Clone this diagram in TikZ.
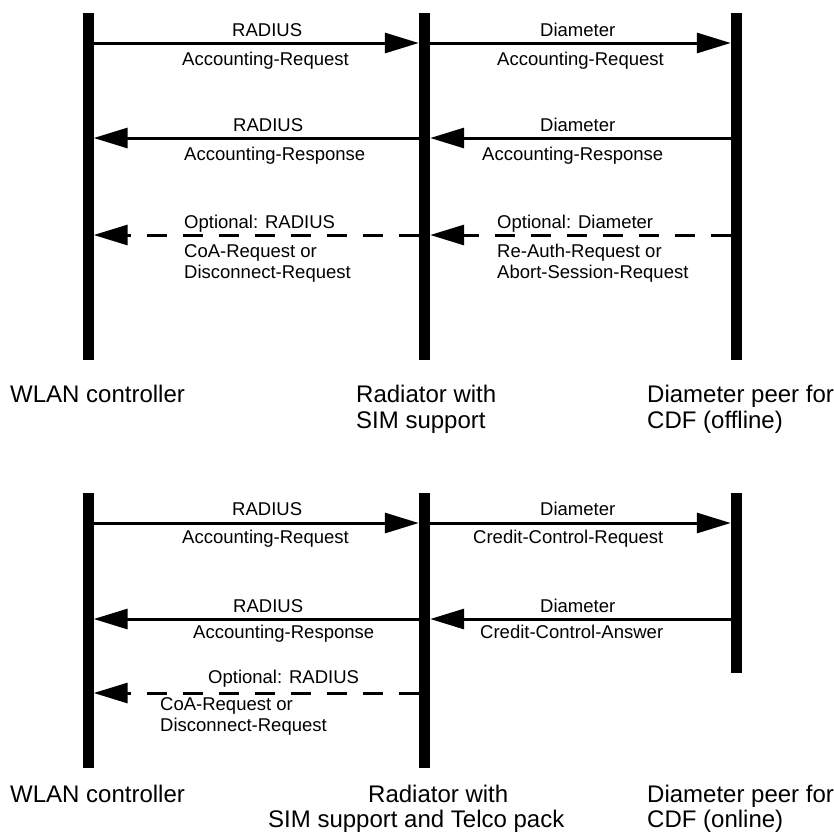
\documentclass[tikz,border=0pt]{standalone}
\usepackage{fontspec}
\setmainfont{Liberation Sans}
\usetikzlibrary{arrows.meta}

\begin{document}
\begin{tikzpicture}[x=1pt,y=-1pt,->,>={Triangle[length=34pt,width=20pt]},
        msg/.style={line width=3pt},
        opt/.style={msg,dash pattern=on 20pt off 16pt},
        life/.style={fill=black,inner sep=0pt,minimum width=11pt},
        txt/.style={anchor=base west,inner sep=0pt,font=\fontsize{18.5}{21}\selectfont},
        who/.style={anchor=base west,inner sep=0pt,font=\fontsize{24}{26}\selectfont}]

  \useasboundingbox[-] (0,0) rectangle (834,833);

  % offline charging
  \node[life,minimum height=347pt] (wlanA) at (88,186.5) {};
  \node[life,minimum height=347pt] (radA) at (424.5,186.5) {};
  \node[life,minimum height=347pt] (cdfA) at (736.5,186.5) {};

  \coordinate (m1) at (0,43);
  \coordinate (m2) at (0,138);
  \coordinate (m3) at (0,235);

  \draw[msg] (wlanA.east |- m1) -- (radA.west |- m1);
  \draw[msg] (radA.east |- m1) -- (cdfA.west |- m1);
  \draw[msg] (radA.west |- m2) -- (wlanA.east |- m2);
  \draw[msg] (cdfA.west |- m2) -- (radA.east |- m2);
  \draw[opt] (radA.west |- m3) -- (wlanA.east |- m3);
  \draw[opt] (cdfA.west |- m3) -- (radA.east |- m3);

  \node[txt] (t1a) at (232,36) {RADIUS};
  \node[txt] (t1b) at (182,65) {Accounting-Request};
  \node[txt] (t2a) at (233,131) {RADIUS};
  \node[txt] (t2b) at (184,160) {Accounting-Response};
  \node[txt] (t3a) at (184,228) {Optional: RADIUS};
  \node[txt] (t3b) at (184,257) {CoA-Request or};
  \node[txt] (t3c) at (184,278) {Disconnect-Request};

  \node[txt] (d1a) at (540,36) {Diameter};
  \node[txt] (d1b) at (497,65) {Accounting-Request};
  \node[txt] (d2a) at (540,131) {Diameter};
  \node[txt] (d2b) at (482,160) {Accounting-Response};
  \node[txt] (d3a) at (497,228) {Optional: Diameter};
  \node[txt] (d3b) at (497,257) {Re-Auth-Request or};
  \node[txt] (d3c) at (497,278) {Abort-Session-Request};

  \node[who] (wlanAl) at (10,402) {WLAN controller};
  \node[who] (radAl) at (356,402) {Radiator with};
  \node[who] (radAm) at (356,428) {SIM support};
  \node[who] (cdfAl) at (647,402) {Diameter peer for};
  \node[who] (cdfAm) at (647,428) {CDF (offline)};

  % online charging
  \node[life,minimum height=275pt] (wlanB) at (88,630.5) {};
  \node[life,minimum height=275pt] (radB) at (424.5,630.5) {};
  \node[life,minimum height=180pt] (cdfB) at (736.5,583) {};

  \coordinate (m4) at (0,523);
  \coordinate (m5) at (0,619);
  \coordinate (m6) at (0,693);

  \draw[msg] (wlanB.east |- m4) -- (radB.west |- m4);
  \draw[msg] (radB.east |- m4) -- (cdfB.west |- m4);
  \draw[msg] (radB.west |- m5) -- (wlanB.east |- m5);
  \draw[msg] (cdfB.west |- m5) -- (radB.east |- m5);
  \draw[opt] (radB.west |- m6) -- (wlanB.east |- m6);

  \node[txt] (t4a) at (232,515) {RADIUS};
  \node[txt] (t4b) at (182,543) {Accounting-Request};
  \node[txt] (t5a) at (233,612) {RADIUS};
  \node[txt] (t5b) at (193,638) {Accounting-Response};
  \node[txt] (t6a) at (208,683) {Optional: RADIUS};
  \node[txt] (t6b) at (160,710) {CoA-Request or};
  \node[txt] (t6c) at (160,731) {Disconnect-Request};

  \node[txt] (d4a) at (540,515) {Diameter};
  \node[txt] (d4b) at (473,543) {Credit-Control-Request};
  \node[txt] (d5a) at (540,612) {Diameter};
  \node[txt] (d5b) at (480,638) {Credit-Control-Answer};

  \node[who] (wlanBl) at (10,802) {WLAN controller};
  \node[who] (radBl) at (368,802) {Radiator with};
  \node[who] (radBm) at (268,827) {SIM support and Telco pack};
  \node[who] (cdfBl) at (647,802) {Diameter peer for};
  \node[who] (cdfBm) at (647,827) {CDF (online)};

\end{tikzpicture}
\end{document}
